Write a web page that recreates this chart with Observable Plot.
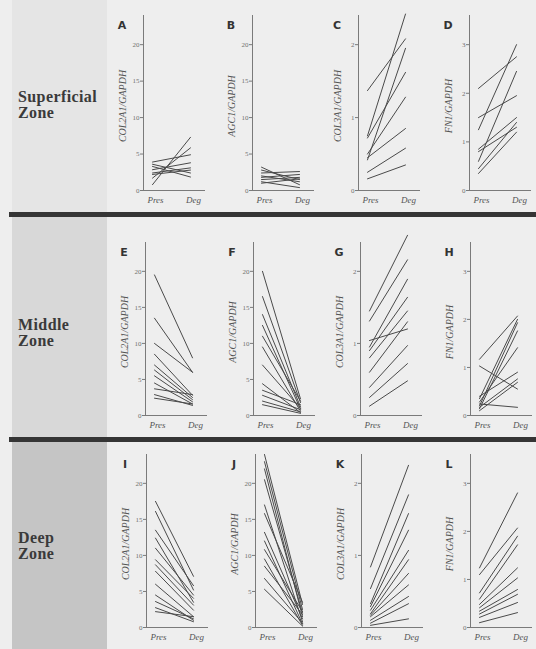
<!DOCTYPE html>
<html><head><meta charset="utf-8">
<script src="https://cdn.jsdelivr.net/npm/d3@7"></script>
<script src="https://cdn.jsdelivr.net/npm/@observablehq/plot@0.6"></script>
<style>
html,body{margin:0;padding:0;background:#ededed;}
#fig{position:relative;width:536px;height:649px;overflow:hidden;background:#eeeeee;}
.band{position:absolute;left:12px;width:95px;}
.sep{position:absolute;left:9px;width:527px;height:5px;background:#353535;}
.zone{position:absolute;left:18px;font-family:"Liberation Serif",serif;font-weight:bold;font-size:16px;line-height:16px;color:#3a3a3a;letter-spacing:0.4px;}
.letter{position:absolute;font-family:"DejaVu Sans",sans-serif;font-weight:bold;font-size:11px;color:#333;transform:translate(-50%,-50%);}
.panel{position:absolute;}
</style></head><body><div id="fig"></div><script>
// ---- data ----
const stages = ["Pres", "Deg"];
const zoneNames = ["Superficial", "Middle", "Deep"];
const zoneWord = "Zone";
const genes = ["COL2A1/GAPDH", "AGC1/GAPDH", "COL3A1/GAPDH", "FN1/GAPDH"];
const letters = ["A","B","C","D","E","F","G","H","I","J","K","L"];
const yMaxByGene = [24, 24, 2.4, 3.6];
const ticksCOL2A1 = [0, 5, 10, 15, 20];
const ticksAGC1 = [0, 5, 10, 15, 20];
const ticksCOL3A1 = [0, 1, 2];
const ticksFN1 = [0, 1, 2, 3];

// Superficial zone
const A_pres = [0.8, 1.7, 3.9, 3.3, 2.85, 2.4, 3.6, 2.2];
const A_deg  = [7.3, 5.85, 4.9, 1.85, 3.8, 3.1, 2.4, 2.8];
const B_pres = [3.2, 2.8, 2.4, 2.0, 1.8, 1.5, 1.2, 1.0];
const B_deg  = [0.8, 1.5, 2.6, 1.2, 2.2, 1.8, 0.4, 1.6];
const C_pres = [1.37, 0.75, 0.42, 0.72, 0.5, 0.45, 0.25, 0.16];
const C_deg  = [2.08, 2.42, 1.95, 1.62, 1.28, 0.85, 0.58, 0.35];
const D_pres = [2.1, 1.5, 1.25, 0.85, 0.6, 0.8, 0.35, 0.45];
const D_deg  = [2.75, 1.95, 3.0, 1.5, 2.45, 1.3, 1.2, 1.4];
// Middle zone
const E_pres = [19.5, 13.5, 10.0, 8.5, 7.0, 6.3, 5.5, 4.5, 3.7, 2.9, 2.4];
const E_deg  = [8.0, 6.0, 6.0, 2.8, 2.5, 2.2, 1.9, 1.6, 2.9, 1.4, 1.6];
const F_pres = [20, 16.5, 14, 12.5, 11, 9.5, 7, 4.4, 3.5, 2.8, 2.0, 1.5];
const F_deg  = [2.3, 1.8, 1.2, 0.9, 2.0, 0.6, 1.0, 0.4, 1.5, 0.8, 0.5, 0.3];
const G_pres = [1.45, 1.31, 0.95, 1.04, 0.9, 0.8, 0.6, 0.39, 0.25, 0.13];
const G_deg  = [2.5, 2.16, 1.89, 1.2, 1.64, 1.45, 1.3, 0.97, 0.72, 0.48];
const H_pres = [1.17, 1.03, 0.35, 0.2, 0.28, 0.17, 0.4, 0.24, 0.14, 0.1];
const H_deg  = [2.07, 0.55, 2.0, 1.93, 1.41, 0.76, 0.9, 0.17, 1.76, 0.69];
// Deep zone
const I_pres = [17.5, 16.1, 13.5, 12.4, 11.0, 9.4, 8.7, 7.8, 6.0, 4.5, 3.6, 2.75, 2.2];
const I_deg  = [7.1, 5.2, 5.8, 3.5, 4.5, 4.05, 3.1, 2.4, 1.5, 1.0, 1.2, 0.8, 1.5];
const J_pres = [24.0, 23.0, 22.0, 20.5, 17.0, 15.8, 13.2, 12.0, 10.8, 9.5, 8.5, 6.8, 5.3];
const J_deg  = [3.2, 2.5, 1.5, 2.0, 0.8, 3.5, 1.2, 0.5, 2.2, 0.3, 1.8, 0.6, 0.2];
const K_pres = [0.84, 0.54, 0.33, 0.29, 0.24, 0.19, 0.17, 0.15, 0.1, 0.06, 0.03];
const K_deg  = [2.25, 1.84, 1.58, 1.35, 1.07, 0.94, 0.75, 0.59, 0.43, 0.33, 0.12];
const L_pres = [1.24, 1.1, 0.72, 0.59, 0.48, 0.41, 0.34, 0.28, 0.21, 0.1];
const L_deg  = [2.8, 2.07, 1.9, 1.72, 1.24, 1.03, 0.79, 0.69, 0.52, 0.31];

const presSets = [A_pres,B_pres,C_pres,D_pres,E_pres,F_pres,G_pres,H_pres,I_pres,J_pres,K_pres,L_pres];
const degSets  = [A_deg,B_deg,C_deg,D_deg,E_deg,F_deg,G_deg,H_deg,I_deg,J_deg,K_deg,L_deg];
const tickSets = [ticksCOL2A1, ticksAGC1, ticksCOL3A1, ticksFN1];

// ---- layout ----
const axisXs = [[143,252,358,469],[145,253,360,470],[146,255,361,470]];
const frameTops = [15, 242, 454];
const frameHeights = [175, 173, 173];
const bands = [{top:0,h:212,bg:"#e5e5e5"},{top:217,h:220,bg:"#d8d8d8"},{top:442,h:207,bg:"#c5c5c5"}];
const seps = [212, 437];
const zoneTops = [89, 317, 530];

const fig = document.getElementById("fig");
bands.forEach(b => {
  const d = document.createElement("div");
  d.className = "band"; d.style.top = b.top + "px"; d.style.height = b.h + "px"; d.style.background = b.bg;
  fig.appendChild(d);
});
seps.forEach(y => {
  const d = document.createElement("div");
  d.className = "sep"; d.style.top = y + "px"; fig.appendChild(d);
});
zoneNames.forEach((z, r) => {
  const d = document.createElement("div");
  d.className = "zone"; d.style.top = zoneTops[r] + "px";
  d.innerHTML = z + "<br>" + zoneWord;
  fig.appendChild(d);
});

const ML = 42, MT = 12, MB = 22, FW = 62, MR = 6;
for (let r = 0; r < 3; r++) {
  for (let c = 0; c < 4; c++) {
    const k = r * 4 + c;
    const pres = presSets[k], deg = degSets[k];
    const rows = pres.flatMap((v, i) => [
      {id: i, stage: stages[0], value: v},
      {id: i, stage: stages[1], value: deg[i]}
    ]);
    const fh = frameHeights[r];
    const W = ML + FW + MR, H = MT + fh + MB;
    const chart = Plot.plot({
      width: W, height: H,
      marginLeft: ML, marginRight: MR, marginTop: MT, marginBottom: MB,
      style: {background: "transparent", fontFamily: "'Liberation Serif', serif", fontSize: "7px", color: "#6a6a6a", overflow: "visible"},
      x: {type: "point", domain: stages, range: [ML + 9, ML + 47], padding: 0, label: null},
      y: {domain: [0, yMaxByGene[c]], label: null},
      marks: [
        Plot.ruleY([0], {stroke: "#7a7a7a", strokeWidth: 1}),
        Plot.ruleX([stages[0]], {dx: -9, stroke: "#7a7a7a", strokeWidth: 1}),
        Plot.axisY(tickSets[c], {tickSize: 3, tickPadding: 1, stroke: "#7a7a7a", fill: "#707070", fontSize: 7, tickFormat: d => String(d), label: null}),
        Plot.axisX({tickSize: 0, tickPadding: 6, fontSize: 9, fontStyle: "italic", fill: "#555", dx: 3, label: null}),
        Plot.text([genes[c]], {frameAnchor: "left", rotate: -90, dx: -21, dy: 3, fontStyle: "italic", fontSize: 10, fill: "#555", textAnchor: "middle"}),
        Plot.line(rows, {x: "stage", y: "value", z: "id", stroke: "#4a4a4a", strokeWidth: 1})
      ]
    });
    chart.classList.add("panel");
    chart.style.left = (axisXs[r][c] - ML) + "px";
    chart.style.top = (frameTops[r] - MT) + "px";
    fig.appendChild(chart);
    const L = document.createElement("div");
    L.className = "letter";
    L.textContent = letters[k];
    L.style.left = (axisXs[r][c] - 21) + "px";
    L.style.top = (frameTops[r] + 10) + "px";
    fig.appendChild(L);
  }
}
</script></body></html>
